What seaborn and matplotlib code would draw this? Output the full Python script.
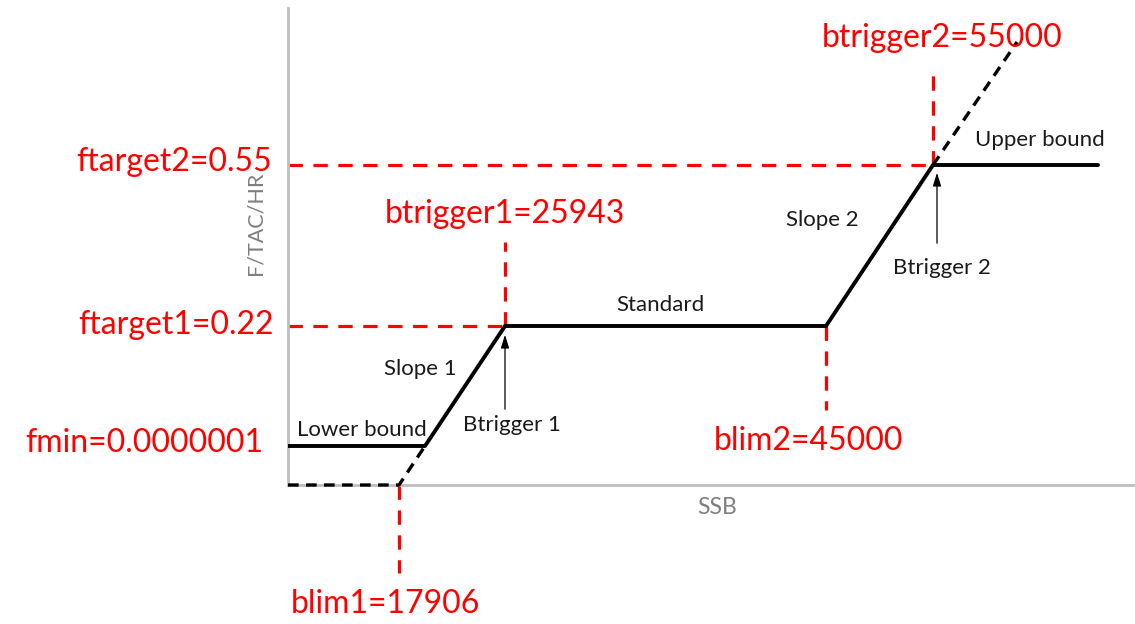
import numpy as np
import pandas as pd
import seaborn as sns
import matplotlib.pyplot as plt

# schematic harvest control rule (positions are diagram units, not to scale)
ssb_pts = [0, 137, 217, 538, 645, 810]      # lower bound -> btrigger1 -> blim2 -> btrigger2 -> upper bound
f_pts = [39, 39, 159, 159, 320, 320]
ext_low_x = [0, 111, 137]                    # dashed extension of slope 1 down to blim1
ext_low_y = [0, 0, 39]
ext_high_x = [645, 729]                      # dashed extension of slope 2 above ftarget2
ext_high_y = [320, 443]

blim1_x, btrig1_x, blim2_x, btrig2_x = 111, 217, 538, 645
fmin_y, ftarget1_y, ftarget2_y = 39, 159, 320

red_labels = {
    "ftarget2": "ftarget2=0.55",
    "ftarget1": "ftarget1=0.22",
    "fmin": "fmin=0.0000001",
    "btrigger1": "btrigger1=25943",
    "btrigger2": "btrigger2=55000",
    "blim2": "blim2=45000",
    "blim1": "blim1=17906",
}
segment_labels = ["Lower bound", "Slope 1", "Standard", "Slope 2", "Upper bound"]
arrow_labels = ["Btrigger 1", "Btrigger 2"]

sns.set_style("white")
plt.rcParams['font.family'] = ['Lato', 'DejaVu Sans']

fig = plt.figure(figsize=(11.35, 6.24), dpi=100)
ax = fig.add_axes([288 / 1135, 139 / 624, 847 / 1135, 477 / 624])
ax.set_xlim(0, 847)
ax.set_ylim(0, 477)

red = "#ff0000"
red_kw = dict(color=red, lw=2.3, dashes=(4.5, 3.3), clip_on=False, zorder=2,
              estimator=None, sort=False)
# red reference lines
sns.lineplot(x=[0, btrig2_x], y=[ftarget2_y, ftarget2_y], ax=ax, **red_kw)
sns.lineplot(x=[btrig2_x, btrig2_x], y=[ftarget2_y, 418], ax=ax, **red_kw)
sns.lineplot(x=[0, btrig1_x], y=[ftarget1_y, ftarget1_y], ax=ax, **red_kw)
sns.lineplot(x=[btrig1_x, btrig1_x], y=[ftarget1_y, 243], ax=ax, **red_kw)
sns.lineplot(x=[blim2_x, blim2_x], y=[ftarget1_y, 75], ax=ax, **red_kw)
sns.lineplot(x=[blim1_x, blim1_x], y=[0, -88], ax=ax, **red_kw)

# the rule itself
hcr = pd.DataFrame({"ssb": ssb_pts, "f": f_pts})
sns.lineplot(data=hcr, x="ssb", y="f", sort=False, estimator=None, color="black",
             lw=2.8, ax=ax, zorder=3)
sns.lineplot(x=ext_low_x, y=ext_low_y, sort=False, estimator=None, color="black",
             lw=2.4, dashes=(3.2, 2.2), ax=ax, zorder=3, clip_on=False)
sns.lineplot(x=ext_high_x, y=ext_high_y, sort=False, estimator=None, color="black",
             lw=2.4, dashes=(3.2, 2.2), ax=ax, zorder=3)

# arrows to trigger points
arrow_kw = dict(arrowstyle="-|>,head_length=0.8,head_width=0.25", color="black", lw=0.9)
ax.annotate("", xy=(btrig1_x, 153), xytext=(btrig1_x, 73), arrowprops=arrow_kw)
ax.annotate("", xy=(btrig2_x + 4, 315), xytext=(btrig2_x + 4, 239), arrowprops=arrow_kw)

# black annotations
txt_kw = dict(color="#1a1a1a", fontsize=16, va="center")
ax.text(9, 55, segment_labels[0], ha="left", **txt_kw)
ax.text(132, 116, segment_labels[1], ha="center", **txt_kw)
ax.text(372, 180, segment_labels[2], ha="center", **txt_kw)
ax.text(534, 265, segment_labels[3], ha="center", **txt_kw)
ax.text(752, 345, segment_labels[4], ha="center", **txt_kw)
ax.text(224, 60, arrow_labels[0], ha="center", **txt_kw)
ax.text(654, 217, arrow_labels[1], ha="center", **txt_kw)

# red value labels
rk = dict(color=red, fontsize=23, va="center")
ax.text(-16, ftarget2_y + 3, red_labels["ftarget2"], ha="right", **rk)
ax.text(-14, ftarget1_y + 1, red_labels["ftarget1"], ha="right", **rk)
ax.text(-25, 42, red_labels["fmin"], ha="right", **rk)
ax.text(btrig1_x, 271, red_labels["btrigger1"], ha="center", **rk)
ax.text(654, 447, red_labels["btrigger2"], ha="center", **rk)
ax.text(521, 44, red_labels["blim2"], ha="center", **rk)
ax.text(97, -119, red_labels["blim1"], ha="center", **rk)

# axis titles
ax.text(429, -22, "SSB", ha="center", va="center", color="#7f7f7f", fontsize=16.5)
ax.text(-33, 262, "F/TAC/HR", ha="center", va="center", rotation=90,
        color="#7f7f7f", fontsize=15.5)

ax.set_xticks([])
ax.set_yticks([])
ax.set_xlabel("")
ax.set_ylabel("")
sns.despine(ax=ax)
for s in ["left", "bottom"]:
    ax.spines[s].set_color("#bfbfbf")
    ax.spines[s].set_linewidth(2)

fig.savefig("out.png", dpi=100)
